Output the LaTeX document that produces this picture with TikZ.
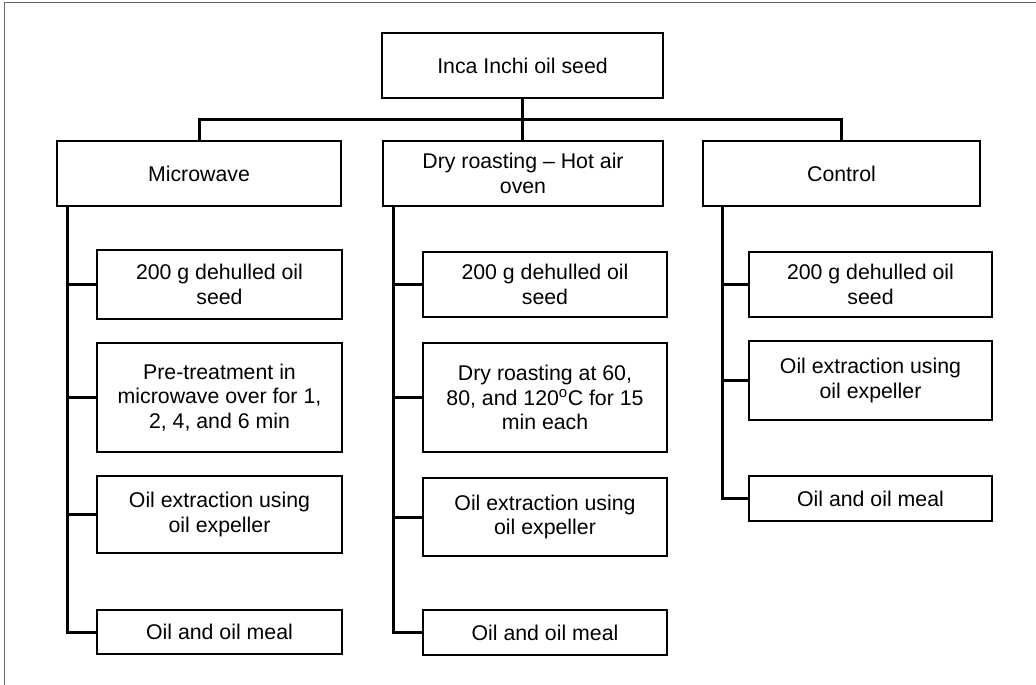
\documentclass[tikz,border=0pt]{standalone}
\usepackage{fontspec}
\setmainfont{Liberation Sans}
\usetikzlibrary{calc}
\tikzset{
  box/.style  = {draw=black, line width=1.5pt, fill=white, align=center,
                 inner sep=2pt, font=\fontsize{21.3}{24.5}\selectfont},
  link/.style = {draw=black, line width=3pt},
  frame/.style = {draw=black!60, line width=1pt},
}
\begin{document}
\begin{tikzpicture}[x=1pt, y=-1pt]
  \useasboundingbox (0,0) rectangle (1036,685);
  \draw[frame] (4,3) rectangle (1045,695);
  % root and the three treatments
  \node[box, minimum width=281pt, minimum height=65pt] (seed) at (522.5,65.5) {Inca Inchi oil seed};
  \node[box, minimum width=284pt, minimum height=65pt] (mw) at (199,173.5) {Microwave};
  \node[box, minimum width=280pt, minimum height=65pt] (dry) at (523,173.5) {Dry roasting -- Hot air\\oven};
  \node[box, minimum width=277pt, minimum height=65pt] (ctl) at (841.5,173.5) {Control};
  \draw[link] (seed.south) -- ++(0,21) -| (mw.north);
  \draw[link] (seed.south) -- ++(0,21) -| (ctl.north);
  \draw[link] (seed.south) -- (seed.south |- dry.north);
  % microwave steps
  \foreach \n/\y/\h/\t in {m1/284.5/69/{200 g dehulled oil\\seed},
      m2/397.5/109/{Pre-treatment in\\microwave over for 1,\\2, 4, and 6 min},
      m3/514.5/77/{Oil extraction using\\oil expeller},
      m4/632/44/{Oil and oil meal}} {
    \node[box, minimum width=245pt, minimum height=\h pt] (\n) at (219.5,\y) {\t};
    \draw[link] ($(mw.south west)+(11,0)$) |- (\n.west);
  }
  % dry roasting steps
  \foreach \n/\y/\h/\t in {d1/284.5/65/{200 g dehulled oil\\seed},
      d2/397.5/109/{Dry roasting at 60,\\80, and 120\textsuperscript{o}C for 15\\min each},
      d3/517/78/{Oil extraction using\\oil expeller},
      d4/632.5/45/{Oil and oil meal}} {
    \node[box, minimum width=244pt, minimum height=\h pt] (\n) at (545,\y) {\t};
    \draw[link] ($(dry.south west)+(11,0)$) |- (\n.west);
  }
  % control steps
  \foreach \n/\y/\h/\t in {c1/284.5/65/{200 g dehulled oil\\seed},
      c2/380.5/79/{Oil extraction using\\oil expeller},
      c3/498.5/45/{Oil and oil meal}} {
    \node[box, minimum width=243pt, minimum height=\h pt] (\n) at (870.5,\y) {\t};
    \draw[link] ($(ctl.south west)+(20,0)$) |- (\n.west);
  }
\end{tikzpicture}
\end{document}
